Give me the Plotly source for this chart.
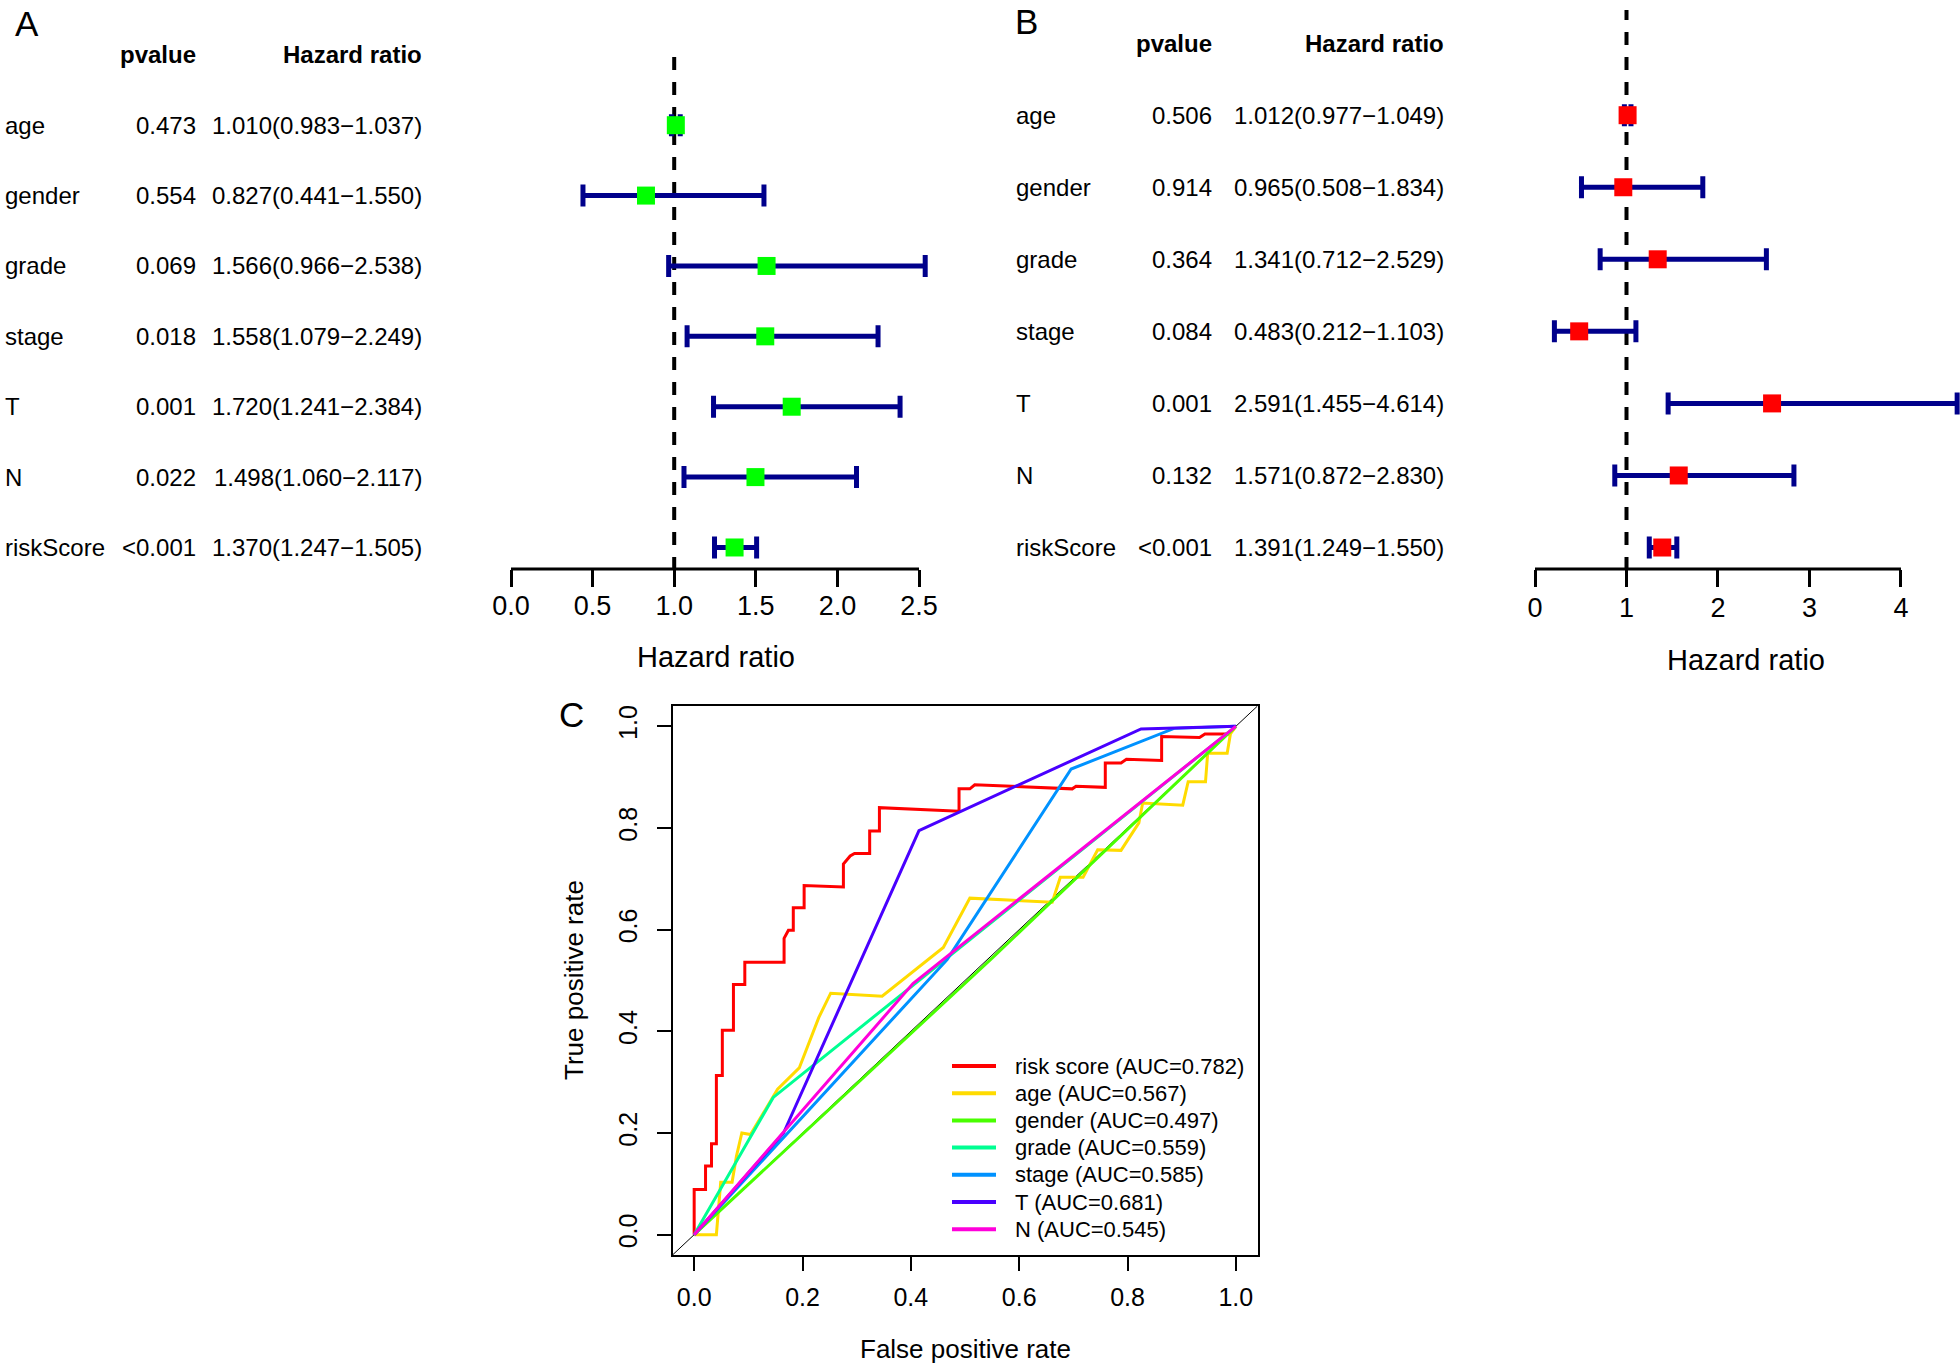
import plotly.graph_objects as go

# ---------------- data ----------------
variables = ["age", "gender", "grade", "stage", "T", "N", "riskScore"]

# Panel A (univariate Cox)
A_pvalue = ["0.473", "0.554", "0.069", "0.018", "0.001", "0.022", "<0.001"]
A_hr = [1.010, 0.827, 1.566, 1.558, 1.720, 1.498, 1.370]
A_low = [0.983, 0.441, 0.966, 1.079, 1.241, 1.060, 1.247]
A_high = [1.037, 1.550, 2.538, 2.249, 2.384, 2.117, 1.505]
A_ticks = [0.0, 0.5, 1.0, 1.5, 2.0, 2.5]

# Panel B (multivariate Cox)
B_pvalue = ["0.506", "0.914", "0.364", "0.084", "0.001", "0.132", "<0.001"]
B_hr = [1.012, 0.965, 1.341, 0.483, 2.591, 1.571, 1.391]
B_low = [0.977, 0.508, 0.712, 0.212, 1.455, 0.872, 1.249]
B_high = [1.049, 1.834, 2.529, 1.103, 4.614, 2.830, 1.550]
B_ticks = [0, 1, 2, 3, 4]

# Panel C (ROC curves)
roc_names = ["risk score", "age", "gender", "grade", "stage", "T", "N"]
roc_auc = ["0.782", "0.567", "0.497", "0.559", "0.585", "0.681", "0.545"]
roc_colors = ["#FF0000", "#FFDB00", "#49FF00", "#00FF92", "#0092FF", "#4900FF", "#FF00DB"]

risk_fpr = [0, 0, 0.021, 0.021, 0.032, 0.032, 0.041, 0.041, 0.052, 0.052, 0.0725, 0.0725,
            0.0935, 0.0935, 0.166, 0.166, 0.174, 0.183, 0.183, 0.203, 0.203, 0.2755, 0.2755,
            0.288, 0.296, 0.324, 0.324, 0.342, 0.342, 0.489, 0.489, 0.509, 0.518, 0.698,
            0.705, 0.759, 0.759, 0.788, 0.798, 0.863, 0.863, 0.933, 0.943, 0.988, 1.0]
risk_tpr = [0, 0.089, 0.089, 0.135, 0.135, 0.179, 0.179, 0.313, 0.313, 0.402, 0.402, 0.492,
            0.492, 0.536, 0.536, 0.583, 0.599, 0.599, 0.643, 0.643, 0.687, 0.684, 0.729,
            0.745, 0.750, 0.750, 0.794, 0.794, 0.840, 0.833, 0.877, 0.877, 0.885, 0.877,
            0.882, 0.880, 0.928, 0.928, 0.935, 0.933, 0.980, 0.978, 0.985, 0.985, 1.0]
age_fpr = [0, 0.009, 0.041, 0.049, 0.070, 0.078, 0.088, 0.104, 0.154, 0.194, 0.230, 0.252,
           0.347, 0.460, 0.509, 0.661, 0.676, 0.718, 0.745, 0.788, 0.821, 0.828, 0.902,
           0.912, 0.944, 0.948, 0.984, 0.990, 1.0]
age_tpr = [0, 0, 0, 0.103, 0.103, 0.154, 0.200, 0.197, 0.286, 0.328, 0.427, 0.475, 0.469,
           0.565, 0.662, 0.654, 0.703, 0.703, 0.757, 0.756, 0.810, 0.849, 0.845, 0.891,
           0.891, 0.947, 0.947, 0.985, 1.0]
gender_fpr = [0, 0.55, 1.0]
gender_tpr = [0, 0.544, 1.0]
grade_fpr = [0, 0.146, 1.0]
grade_tpr = [0, 0.270, 1.0]
stage_fpr = [0, 0.467, 0.696, 0.886, 1.0]
stage_tpr = [0, 0.541, 0.916, 0.996, 1.0]
T_fpr = [0, 0.165, 0.415, 0.825, 1.0]
T_tpr = [0, 0.200, 0.795, 0.995, 1.0]
N_fpr = [0, 0.404, 1.0]
N_tpr = [0, 0.494, 1.0]

roc_fpr = [risk_fpr, age_fpr, gender_fpr, grade_fpr, stage_fpr, T_fpr, N_fpr]
roc_tpr = [risk_tpr, age_tpr, gender_tpr, grade_tpr, stage_tpr, T_tpr, N_tpr]

# ---------------- layout helpers ----------------
W, H = 1960, 1366
FONT = "Liberation Sans, Arial, sans-serif"


def px(x):
    return x / W


def py(y):
    return 1 - y / H


def tfont(size, color="black"):
    return dict(size=size, family=FONT, color=color)


n = len(variables)
rows = [n - i for i in range(n)]

fig = go.Figure()


def forest(hr, low, high, color, xa, ya, size):
    fig.add_trace(go.Scatter(
        x=hr, y=rows, mode="markers",
        marker=dict(symbol="square", size=size, color=color, line=dict(width=0)),
        error_x=dict(type="data", symmetric=False,
                     array=[h - m for h, m in zip(high, hr)],
                     arrayminus=[m - l for m, l in zip(hr, low)],
                     color="#00008B", thickness=5, width=11),
        xaxis=xa, yaxis=ya, showlegend=False, cliponaxis=False, hoverinfo="skip"))


forest(A_hr, A_low, A_high, "#00FF00", "x", "y", 18)
forest(B_hr, B_low, B_high, "#FF0000", "x2", "y2", 18)

for name, auc, col, fx, ty in zip(roc_names, roc_auc, roc_colors, roc_fpr, roc_tpr):
    fig.add_trace(go.Scatter(
        x=fx, y=ty, mode="lines", line=dict(color=col, width=3),
        name=f"{name} (AUC={auc})", xaxis="x3", yaxis="y3", showlegend=False))

shapes = []
annotations = []

# ---- forest panels ----
panels = [
    dict(xa="x", ya="y", pv=A_pvalue, hr=A_hr, low=A_low, high=A_high,
         lab_x=3, pv_x=198, hr_x=424, yr=[0.68, 8.04], axis_end=2.5, title_x=716, title_y=657),
    dict(xa="x2", ya="y2", pv=B_pvalue, hr=B_hr, low=B_low, high=B_high,
         lab_x=1014, pv_x=1214, hr_x=1446, yr=[0.688, 8.46], axis_end=4, title_x=1746, title_y=660),
]
for p in panels:
    yref = p["ya"]
    common = dict(yref=yref, xref="paper", showarrow=False, yanchor="middle")
    annotations.append(dict(text="<b>pvalue</b>", x=px(p["pv_x"]), xanchor="right", y=8,
                            font=tfont(24), **common))
    annotations.append(dict(text="<b>Hazard ratio</b>", x=px(p["hr_x"]), xanchor="right", y=8,
                            font=tfont(24), **common))
    for i, v in enumerate(variables):
        annotations.append(dict(text=v, x=px(p["lab_x"]), xanchor="left", y=rows[i],
                                font=tfont(24), **common))
        annotations.append(dict(text=p["pv"][i], x=px(p["pv_x"]), xanchor="right", y=rows[i],
                                font=tfont(24), **common))
        txt = f"{p['hr'][i]:.3f}({p['low'][i]:.3f}\u2212{p['high'][i]:.3f})"
        annotations.append(dict(text=txt, x=px(p["hr_x"]), xanchor="right", y=rows[i],
                                font=tfont(24), **common))
    # dashed reference line at HR = 1
    shapes.append(dict(type="line", xref=p["xa"], yref=p["ya"], x0=1, x1=1,
                       y0=p["yr"][0], y1=p["yr"][1], layer="below",
                       line=dict(color="black", width=4, dash="13px,12px")))
    # axis line from first to last tick
    shapes.append(dict(type="line", xref=p["xa"], yref="paper", x0=0, x1=p["axis_end"],
                       y0=py(569), y1=py(569), line=dict(color="black", width=3)))
    annotations.append(dict(text="Hazard ratio", x=px(p["title_x"]), y=py(p["title_y"]),
                            xref="paper", yref="paper", showarrow=False,
                            xanchor="center", yanchor="middle", font=tfont(29)))

# ---- ROC diagonal ----
shapes.append(dict(type="line", xref="x3", yref="y3", x0=-0.04, y0=-0.04, x1=1.04, y1=1.04,
                   line=dict(color="black", width=1), layer="below"))

# ---- ROC legend (drawn inside the plot) ----
leg_top, leg_step = 1066, 27.2
for i, (name, auc, col) in enumerate(zip(roc_names, roc_auc, roc_colors)):
    yy = py(leg_top + i * leg_step)
    shapes.append(dict(type="line", xref="paper", yref="paper", x0=px(952), x1=px(996),
                       y0=yy, y1=yy, line=dict(color=col, width=4)))
    annotations.append(dict(text=f"{name} (AUC={auc})", x=px(1013), y=yy, xref="paper",
                            yref="paper", showarrow=False, xanchor="left", yanchor="middle",
                            font=tfont(22)))

annotations.append(dict(text="False positive rate", x=px(965), y=py(1349), xref="paper",
                        yref="paper", showarrow=False, xanchor="center", yanchor="middle",
                        font=tfont(26)))
annotations.append(dict(text="True positive rate", x=px(574), y=py(980), xref="paper",
                        yref="paper", showarrow=False, textangle=-90,
                        xanchor="center", yanchor="middle", font=tfont(26)))

# panel letters
for letter, x, y, anchor in [("A", 27, 23, "middle"), ("B", 1026, 0, "top"),
                             ("C", 571, 714, "middle")]:
    annotations.append(dict(text=letter, x=px(x), y=py(y), xref="paper", yref="paper",
                            showarrow=False, xanchor="center", yanchor=anchor,
                            font=tfont(35)))

axis_common = dict(showgrid=False, zeroline=False, ticks="outside", tickcolor="black",
                   automargin=False)

roc_ticks = [0, 0.2, 0.4, 0.6, 0.8, 1.0]

fig.update_layout(
    width=W, height=H, margin=dict(l=0, r=0, t=0, b=0, pad=0),
    paper_bgcolor="white", plot_bgcolor="rgba(0,0,0,0)",
    font=dict(family=FONT, color="black"), showlegend=False,
    xaxis=dict(domain=[px(511), px(511 + 2.6 * 163.2)], range=[0, 2.6], anchor="y",
               tickvals=A_ticks, ticktext=[f"{t:.1f}" for t in A_ticks], ticklen=17,
               tickwidth=3, ticklabelstandoff=-4,
               tickfont=tfont(27), showline=False, **axis_common),
    yaxis=dict(domain=[py(569), py(52)], range=[0.68 + 1 / 70.4, 8.04], visible=False,
               automargin=False),
    xaxis2=dict(domain=[px(1535), 1.0], range=[0, 4.645], anchor="y2",
                tickvals=B_ticks, ticktext=[str(t) for t in B_ticks], ticklen=17,
                tickwidth=3, ticklabelstandoff=-2,
                tickfont=tfont(27), showline=False, **axis_common),
    yaxis2=dict(domain=[py(569), py(10)], range=[0.688 + 1 / 72.1, 8.46], visible=False,
                automargin=False),
    xaxis3=dict(domain=[px(672.5), px(1257.5)], range=[-0.04, 1.04], anchor="y3",
                tickvals=roc_ticks, ticktext=[f"{t:.1f}" for t in roc_ticks], ticklen=14,
                tickwidth=2, ticklabelstandoff=5, tickfont=tfont(25),
                showline=True, mirror=True, linecolor="black", linewidth=2, **axis_common),
    yaxis3=dict(domain=[py(1255), py(706)], range=[-0.04, 1.04], anchor="x3",
                tickvals=roc_ticks, ticktext=[f"{t:.1f}" for t in roc_ticks], ticklen=14,
                tickwidth=2, tickangle=-90, ticklabelstandoff=10, tickfont=tfont(25),
                showline=True, mirror=True, linecolor="black", linewidth=2, **axis_common),
    shapes=shapes, annotations=annotations,
)

fig.write_html("out.html", config={"displayModeBar": False},
               post_script="document.body.style.margin='0px';"
                           "document.body.style.overflow='hidden';")
